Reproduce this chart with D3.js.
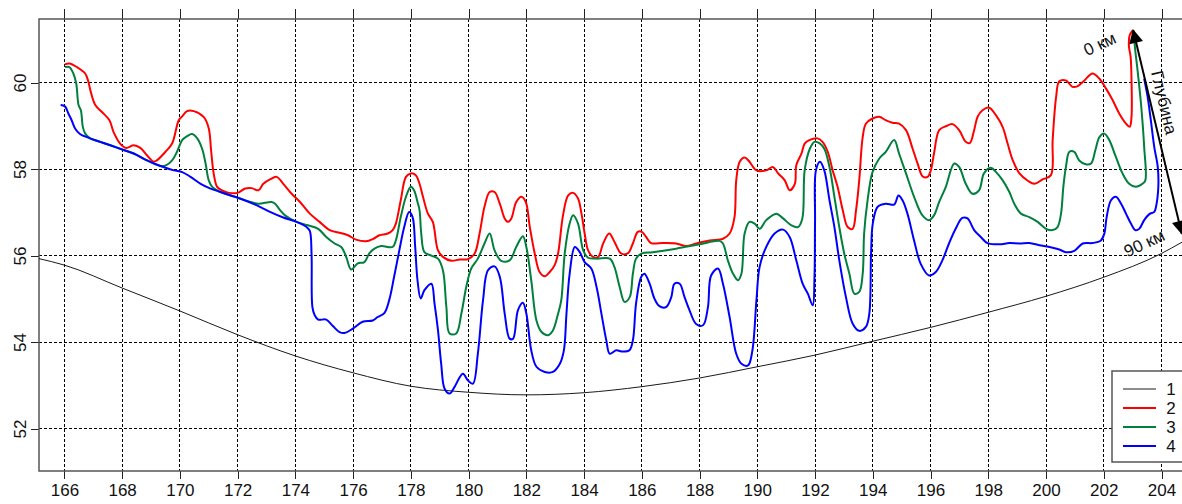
<!DOCTYPE html>
<html>
<head>
<meta charset="utf-8">
<script src="https://cdn.jsdelivr.net/npm/d3@7"></script>
<style>
  html, body { margin: 0; padding: 0; background: #fff; }
  svg { display: block; font-family: "Liberation Sans", Arial, sans-serif; }
</style>
</head>
<body>
<div id="chart-area"></div>
<script>
// profile chart: relief curve (1) + three depth profiles (2, 3, 4)

const X_TICKS = [166, 168, 170, 172, 174, 176, 178, 180, 182, 184, 186, 188, 190, 192, 194, 196, 198, 200, 202, 204];
const Y_TICKS = [52, 54, 56, 58, 60];
const LEGEND_LABELS = ["1", "2", "3", "4"];
const SERIES_COLORS = ["#1a1a1a", "#ff0000", "#00803c", "#0000ff"];

// 1 - smooth black base curve
const line1 = [[165.12,55.93],[166,55.78],[168,55.25],[170,54.72],[172,54.17],[174,53.68],[176,53.29],[178,52.98],
  [180,52.84],[182,52.78],[184,52.83],[186,52.97],[188,53.17],[190,53.43],[192,53.70],[194,54.02],[196,54.34],
  [198,54.69],[200,55.06],[202,55.50],[204,56.05],[204.71,56.31]];

// 2 - red
const line2 = [[166.02,60.42],[166.17,60.44],[166.43,60.36],[166.72,60.21],[166.83,60.02],[166.9,59.82],[167.07,59.48],
  [167.3,59.32],[167.56,59.13],[167.7,58.86],[167.93,58.59],[168.14,58.49],[168.4,58.55],[168.63,58.49],[168.86,58.32],
  [169.09,58.17],[169.2,58.2],[169.5,58.4],[169.73,58.59],[169.96,59.13],[170.08,59.22],[170.25,59.34],[170.48,59.34],
  [170.83,59.2],[171.0,58.94],[171.08,58.44],[171.17,57.9],[171.29,57.59],[171.46,57.51],[171.7,57.45],
  [172.0,57.45],[172.26,57.55],[172.49,57.56],[172.72,57.51],[172.89,57.66],[173.12,57.76],[173.35,57.82],[173.58,57.66],
  [173.87,57.43],[174.16,57.24],[174.5,56.97],[174.84,56.78],[175.19,56.59],[175.53,56.53],[175.82,56.47],[176.1,56.37],
  [176.45,56.33],[176.68,56.38],[176.91,56.47],[177.2,56.51],[177.37,56.59],[177.48,56.74],[177.65,57.28],[177.83,57.82],
  [178.0,57.9],[178.17,57.86],[178.3,57.66],[178.42,57.36],[178.59,56.97],[178.76,56.78],[178.94,56.12],[179.11,55.97],
  [179.4,55.88],[179.69,55.91],[179.98,55.92],[180.21,56.05],[180.38,56.51],[180.55,57.13],[180.73,57.47],[180.9,57.47],
  [181.08,57.2],[181.25,56.86],[181.36,56.78],[181.48,56.86],[181.65,57.24],[181.83,57.36],[181.98,57.24],[182.12,56.66],
  [182.29,56.05],[182.46,55.62],[182.64,55.52],[182.81,55.62],[182.98,55.78],[183.1,56.05],[183.27,56.93],[183.45,57.39],
  [183.62,57.45],[183.79,57.32],[183.91,56.97],[184.02,56.51],[184.14,56.12],[184.31,55.97],[184.49,55.97],[184.66,56.28],
  [184.87,56.51],[185.05,56.32],[185.28,56.05],[185.51,56.05],[185.69,56.28],[185.86,56.55],[186.0,56.55],[186.15,56.43],
  [186.32,56.29],[186.73,56.29],[187.19,56.28],[187.54,56.22],[187.88,56.28],[188.35,56.35],[188.81,56.39],[189.04,56.51],
  [189.21,56.89],[189.27,57.74],[189.39,58.17],[189.56,58.27],[189.73,58.17],[189.97,57.97],[190.31,57.97],[190.54,58.05],
  [190.72,57.9],[190.95,57.74],[191.12,57.51],[191.3,57.66],[191.35,58.09],[191.53,58.36],[191.64,58.59],[191.8,58.67],
  [192.09,58.71],[192.26,58.63],[192.44,58.4],[192.61,57.97],[192.78,57.59],[192.96,57.05],[193.13,56.66],[193.3,56.62],
  [193.42,57.05],[193.53,57.74],[193.65,58.74],[193.76,59.05],[193.99,59.17],[194.22,59.21],[194.45,59.13],[194.68,59.07],
  [194.91,59.05],[195.15,58.9],[195.38,58.47],[195.55,58.13],[195.73,57.83],[195.9,57.82],[196.01,57.97],[196.12,58.36],
  [196.3,58.9],[196.53,58.99],[196.76,59.04],[196.99,58.9],[197.22,58.63],[197.36,58.6],[197.51,58.9],[197.63,59.21],
  [197.8,59.36],[198.03,59.42],[198.27,59.24],[198.5,58.97],[198.67,58.59],[198.85,58.2],[199.08,57.9],[199.37,57.73],
  [199.6,57.66],[199.88,57.76],[200.17,57.86],[200.23,58.67],[200.35,59.67],[200.46,60.03],[200.69,60.05],[200.92,59.9],
  [201.1,59.92],[201.33,60.05],[201.61,60.21],[201.85,60.09],[202.08,59.86],[202.31,59.59],[202.54,59.28],[202.77,59.05],
  [202.9,58.98],[202.96,59.2],[202.96,60.1],[202.93,60.6],[202.87,60.85],[202.9,61.1],[203.01,61.21]];

// 3 - green
const line3 = [[166.02,60.36],[166.17,60.36],[166.31,60.21],[166.41,59.98],[166.49,59.48],[166.57,59.36],[166.64,58.97],
  [166.72,58.82],[166.89,58.71],[167.24,58.63],[167.59,58.55],[168.05,58.44],[168.4,58.36],[168.86,58.2],[169.33,58.07],
  [169.53,58.09],[169.73,58.2],[169.9,58.4],[170.08,58.67],[170.25,58.76],[170.42,58.81],[170.6,58.71],[170.77,58.47],
  [170.89,58.13],[171.0,57.74],[171.12,57.59],[171.29,57.51],[171.41,57.47],[171.76,57.39],[172.08,57.32],[172.45,57.24],
  [172.72,57.2],[173.18,57.24],[173.3,57.2],[173.47,57.05],[173.64,56.93],[174.04,56.78],[174.44,56.7],[174.79,56.62],
  [175.07,56.43],[175.36,56.28],[175.59,56.2],[175.76,55.97],[175.93,55.68],[176.16,55.82],[176.39,55.85],[176.56,56.05],
  [176.74,56.16],[176.97,56.22],[177.37,56.2],[177.48,56.35],[177.65,56.89],[177.83,57.36],[178.0,57.59],[178.11,57.51],
  [178.23,57.24],[178.3,57.05],[178.36,56.51],[178.47,56.08],[178.71,56.0],[178.94,55.93],[179.11,55.66],[179.23,54.81],
  [179.34,54.2],[179.57,54.2],[179.75,54.66],[179.92,55.28],[180.09,55.7],[180.32,55.93],[180.55,56.28],[180.73,56.51],
  [180.9,56.12],[181.13,55.88],[181.42,55.89],[181.65,56.2],[181.88,56.45],[182.0,56.2],[182.17,55.43],[182.35,54.5],
  [182.52,54.24],[182.75,54.16],[182.92,54.27],[183.1,54.66],[183.21,54.97],[183.33,56.05],[183.5,56.74],[183.62,56.93],
  [183.79,56.74],[183.97,56.12],[184.14,55.95],[184.43,55.93],[184.89,55.93],[185.05,55.74],[185.23,55.28],[185.4,54.93],
  [185.58,55.04],[185.69,55.58],[185.8,55.93],[186.0,56.05],[186.38,56.08],[187.19,56.16],[188.0,56.26],[188.69,56.34],
  [188.81,56.28],[188.98,55.89],[189.16,55.58],[189.33,55.43],[189.45,55.58],[189.56,56.51],[189.73,56.78],[189.91,56.74],
  [190.08,56.62],[190.31,56.82],[190.66,56.97],[190.89,56.86],[191.18,56.7],[191.41,56.66],[191.56,56.86],[191.64,57.97],
  [191.82,58.47],[191.98,58.63],[192.15,58.6],[192.32,58.47],[192.5,58.05],[192.67,57.36],[192.84,56.66],[193.01,56.05],
  [193.19,55.58],[193.36,55.12],[193.53,55.16],[193.65,55.58],[193.7,56.51],[193.82,57.28],[193.99,57.93],[194.22,58.24],
  [194.45,58.4],[194.74,58.67],[194.91,58.36],[195.15,57.9],[195.43,57.36],[195.72,56.93],[195.95,56.82],[196.12,56.93],
  [196.3,57.24],[196.53,57.59],[196.82,58.13],[196.99,58.05],[197.22,57.66],[197.45,57.43],[197.68,57.51],[197.85,57.9],
  [198.08,58.03],[198.27,57.93],[198.5,57.74],[198.73,57.47],[198.9,57.2],[199.13,56.97],[199.42,56.89],[199.71,56.78],
  [200.0,56.62],[200.23,56.59],[200.4,56.66],[200.52,56.97],[200.6,57.59],[200.69,58.05],[200.81,58.4],[200.98,58.4],
  [201.15,58.2],[201.38,58.11],[201.56,58.13],[201.71,58.44],[201.85,58.74],[202.02,58.82],[202.19,58.67],[202.42,58.28],
  [202.65,57.9],[202.88,57.66],[203.11,57.59],[203.34,57.66],[203.44,57.74],[203.4,58.51],[203.29,59.51],[203.17,60.29],
  [203.09,60.75],[203.06,60.98]];

// 4 - blue
const line4 = [[165.87,59.48],[166.02,59.45],[166.14,59.28],[166.25,59.13],[166.37,58.94],[166.54,58.81],[166.89,58.71],
  [167.24,58.63],[167.59,58.55],[168.05,58.44],[168.4,58.36],[168.86,58.2],[169.33,58.07],[169.79,57.97],[170.08,57.93],
  [170.37,57.82],[170.72,57.66],[171.06,57.55],[171.41,57.47],[171.76,57.39],[172.08,57.32],[172.67,57.16],[173.12,57.01],
  [173.58,56.88],[174.04,56.78],[174.39,56.66],[174.5,56.57],[174.56,56.05],[174.59,54.81],[174.67,54.62],[174.79,54.52],
  [175.07,54.52],[175.3,54.37],[175.53,54.23],[175.7,54.21],[175.99,54.31],[176.33,54.47],[176.68,54.5],[176.85,54.58],
  [177.08,54.67],[177.25,54.97],[177.42,55.51],[177.6,56.12],[177.77,56.66],[177.94,57.01],[178.06,56.89],[178.15,56.2],
  [178.23,55.43],[178.34,55.01],[178.47,55.2],[178.71,55.35],[178.82,54.89],[178.94,54.27],[179.05,53.5],[179.17,52.92],
  [179.34,52.81],[179.51,52.96],[179.8,53.27],[179.98,53.11],[180.15,53.04],[180.32,53.73],[180.5,54.97],[180.67,55.66],
  [180.9,55.75],[181.08,55.51],[181.25,54.66],[181.42,54.08],[181.54,54.08],[181.71,54.74],[181.88,54.91],[182.0,54.66],
  [182.17,53.81],[182.35,53.43],[182.64,53.31],[182.92,53.31],[183.16,53.5],[183.3,53.81],[183.39,54.66],[183.5,55.58],
  [183.68,56.2],[183.85,56.08],[184.02,55.85],[184.25,55.7],[184.43,55.28],[184.6,54.66],[184.77,54.04],[184.89,53.73],
  [185.11,53.81],[185.34,53.78],[185.57,53.81],[185.69,54.04],[185.8,54.89],[185.98,55.51],[186.09,55.58],[186.27,55.35],
  [186.44,55.0],[186.61,54.83],[186.84,54.81],[187.02,55.04],[187.13,55.35],[187.31,55.35],[187.48,55.04],[187.65,54.74],
  [187.88,54.42],[188.12,54.39],[188.29,54.81],[188.4,55.54],[188.64,55.7],[188.81,55.35],[189.04,54.58],[189.27,53.73],
  [189.45,53.5],[189.68,53.46],[189.83,53.81],[189.97,54.97],[190.08,55.74],[190.31,56.2],[190.6,56.51],[190.89,56.6],
  [191.12,56.43],[191.35,55.89],[191.57,55.35],[191.75,55.12],[191.92,54.85],[191.98,55.5],[192.0,56.82],[192.03,57.97],
  [192.17,58.17],[192.32,57.97],[192.5,57.28],[192.67,56.66],[192.84,55.89],[193.07,55.04],[193.3,54.43],[193.53,54.26],
  [193.76,54.35],[193.88,54.66],[193.94,56.05],[194.0,56.74],[194.17,57.13],[194.45,57.2],[194.74,57.18],[194.89,57.39],
  [195.03,57.28],[195.2,56.97],[195.43,56.35],[195.66,55.81],[195.95,55.54],[196.18,55.62],[196.41,55.89],[196.64,56.28],
  [196.87,56.62],[197.1,56.87],[197.28,56.86],[197.51,56.59],[197.74,56.43],[197.97,56.29],[198.39,56.26],[198.73,56.29],
  [199.08,56.28],[199.42,56.29],[199.77,56.24],[200.12,56.2],[200.46,56.14],[200.69,56.08],[200.98,56.11],[201.27,56.28],
  [201.61,56.29],[201.9,56.35],[202.02,56.51],[202.1,56.89],[202.25,57.28],[202.42,57.36],[202.6,57.2],[202.77,56.97],
  [202.94,56.74],[203.09,56.59],[203.23,56.62],[203.4,56.82],[203.58,56.96],[203.75,57.01],[203.81,57.13],[203.89,57.59],
  [203.87,58.05],[203.75,58.51],[203.63,59.13],[203.52,59.67],[203.4,60.09]];

// depth arrow (0 km at top -> 90 km at bottom), in data units
const arrowFrom = [203.02, 61.21];
const arrowTo = [204.70, 56.51];

const W = 1182, H = 504;
const plot = { left: 39, top: 19, right: 1182, bottom: 471 };

const svg = d3.select("#chart-area")
  .append("svg")
  .attr("width", W)
  .attr("height", H);

const xScale = d3.scaleLinear().domain([165.12, 204.71]).range([plot.left, plot.right]);
const yScale = d3.scaleLinear().domain([51.02, 61.47]).range([plot.bottom, plot.top]);

// grid
const grid = svg.append("g").attr("class", "grid").attr("shape-rendering", "crispEdges");
grid.selectAll(".vgrid").data(X_TICKS).enter().append("line")
  .attr("x1", d => xScale(d)).attr("x2", d => xScale(d))
  .attr("y1", plot.top).attr("y2", plot.bottom)
  .attr("stroke", "#000").attr("stroke-width", 1).attr("stroke-dasharray", "3,2");
grid.selectAll(".hgrid").data(Y_TICKS).enter().append("line")
  .attr("x1", plot.left).attr("x2", plot.right + 10)
  .attr("y1", d => yScale(d)).attr("y2", d => yScale(d))
  .attr("stroke", "#000").attr("stroke-width", 1).attr("stroke-dasharray", "3,2");

// axes (ticks outside, labels R-style)
const xAxisBottom = d3.axisBottom(xScale).tickValues(X_TICKS).tickSize(8).tickPadding(5).tickFormat(d3.format("d"));
const xAxisTop = d3.axisTop(xScale).tickValues(X_TICKS).tickSize(10).tickFormat("");
const yAxis = d3.axisLeft(yScale).tickValues(Y_TICKS).tickSize(8).tickFormat(d3.format("d"));

const gx = svg.append("g").attr("transform", `translate(0,${plot.bottom})`).call(xAxisBottom);
const gxt = svg.append("g").attr("transform", `translate(0,${plot.top})`).call(xAxisTop);
const gy = svg.append("g").attr("transform", `translate(${plot.left},0)`).call(yAxis);

[gx, gxt, gy].forEach(g => {
  g.select(".domain").remove();
  g.selectAll(".tick line").attr("stroke", "#222").attr("stroke-width", 1)
    .attr("shape-rendering", "crispEdges");
});
gx.selectAll("text").attr("font-size", 17).attr("fill", "#111")
  .attr("font-family", "'Liberation Sans', Arial, sans-serif");
gy.selectAll("text")
  .attr("font-size", 17).attr("fill", "#111")
  .attr("font-family", "'Liberation Sans', Arial, sans-serif")
  .attr("text-anchor", "middle")
  .attr("dy", null)
  .attr("x", null)
  .attr("transform", "translate(-13,0) rotate(-90)");

// frame (right side runs off the picture)
svg.append("path")
  .attr("d", `M${plot.right + 5},${plot.top}H${plot.left}V${plot.bottom}H${plot.right + 5}`)
  .attr("fill", "none").attr("stroke", "#555").attr("stroke-width", 1.5);

// series
const lineSmooth = d3.line()
  .x(d => xScale(d[0]))
  .y(d => yScale(d[1]))
  .curve(d3.curveCatmullRom.alpha(0.5));

const lineBase = d3.line()
  .x(d => xScale(d[0]))
  .y(d => yScale(d[1]))
  .curve(d3.curveMonotoneX);

svg.append("path").datum(line1)
  .attr("d", lineBase).attr("fill", "none")
  .attr("stroke", SERIES_COLORS[0]).attr("stroke-width", 1);

[line2, line3, line4].forEach((data, i) => {
  svg.append("path").datum(data)
    .attr("d", lineSmooth).attr("fill", "none")
    .attr("stroke", SERIES_COLORS[i + 1]).attr("stroke-width", 2)
    .attr("stroke-linejoin", "round");
});

// depth arrow
const defs = svg.append("defs");
defs.append("marker")
  .attr("id", "arrowhead")
  .attr("viewBox", "0 0 10 10")
  .attr("refX", 9).attr("refY", 5)
  .attr("markerWidth", 8).attr("markerHeight", 7)
  .attr("markerUnits", "strokeWidth")
  .attr("orient", "auto-start-reverse")
  .append("path").attr("d", "M0,0L10,5L0,10Z").attr("fill", "#000");

const ax1 = xScale(arrowFrom[0]), ay1 = yScale(arrowFrom[1]);
const ax2 = xScale(arrowTo[0]), ay2 = yScale(arrowTo[1]);
svg.append("line")
  .attr("x1", ax1).attr("y1", ay1).attr("x2", ax2).attr("y2", ay2)
  .attr("stroke", "#000").attr("stroke-width", 2)
  .attr("marker-start", "url(#arrowhead)")
  .attr("marker-end", "url(#arrowhead)");

const arrowAngle = Math.atan2(ay2 - ay1, ax2 - ax1) * 180 / Math.PI;

svg.append("text")
  .attr("transform", `translate(${ax1 - 31},${ay1 + 19}) rotate(-25)`)
  .attr("text-anchor", "middle")
  .attr("font-size", 17).attr("fill", "#111")
  .text("0 км");

svg.append("text")
  .attr("transform", `translate(${ax2 - 35},${ay2 + 15}) rotate(-25)`)
  .attr("text-anchor", "middle")
  .attr("font-size", 17).attr("fill", "#111")
  .text("90 км");

svg.append("text")
  .attr("transform", `translate(${(ax1 + ax2) / 2 + 1},${(ay1 + ay2) / 2 - 28}) rotate(${arrowAngle})`)
  .attr("text-anchor", "middle")
  .attr("font-size", 17).attr("fill", "#111")
  .text("Глубина");

// legend
const legend = svg.append("g").attr("transform", "translate(1112,371)");
legend.append("rect")
  .attr("x", 0).attr("y", 0).attr("width", 75).attr("height", 91)
  .attr("fill", "#fff").attr("stroke", "#555").attr("stroke-width", 1.5);

LEGEND_LABELS.forEach((lab, i) => {
  const yy = 18 + i * 19;
  legend.append("line")
    .attr("x1", 11).attr("x2", 44).attr("y1", yy).attr("y2", yy)
    .attr("stroke", SERIES_COLORS[i]).attr("stroke-width", i === 0 ? 1 : 2);
  legend.append("text")
    .attr("x", 59).attr("y", yy + 6)
    .attr("text-anchor", "middle")
    .attr("font-size", 17).attr("fill", "#111")
    .text(lab);
});
</script>
</body>
</html>
